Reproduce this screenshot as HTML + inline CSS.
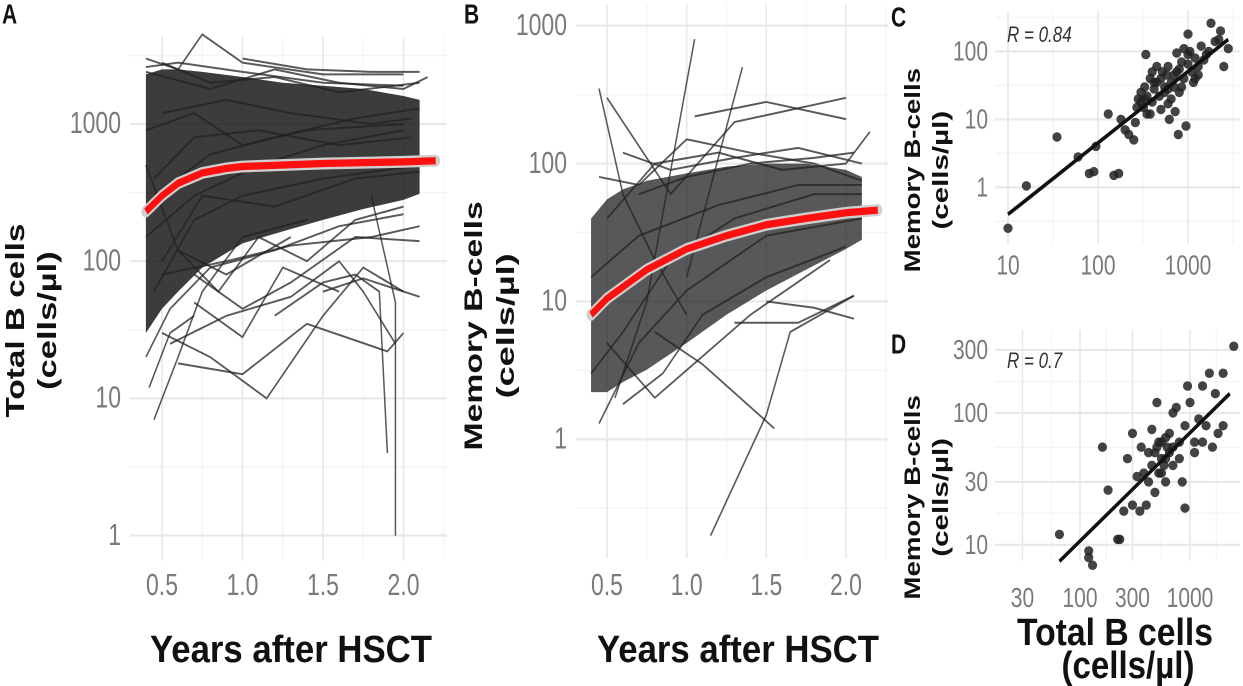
<!DOCTYPE html>
<html><head><meta charset="utf-8"><style>
html,body{margin:0;padding:0;background:#fff;}
svg{display:block;font-family:"Liberation Sans",Arial,sans-serif;}
.tk{fill:#7a7a7a;font-size:23px;}
.tks{fill:#7a7a7a;font-size:21px;}
.ttl{fill:#111;font-weight:bold;}
</style></head><body>
<svg id="fig" width="1243" height="686" viewBox="0 0 1243 520" preserveAspectRatio="none"></svg>
<script>
// ---------- DATA ----------
const yearTicks=[0.5,1.0,1.5,2.0];
const yearTickLabels=["0.5","1.0","1.5","2.0"];
const aTicks=[1,10,100,1000];
const aTickLabels=["1","10","100","1000"];
const bTicks=[1,10,100,1000];
const bTickLabels=["1","10","100","1000"];
const cxTicks=[10,100,1000];const cxTickLabels=["10","100","1000"];
const cyTicks=[1,10,100];const cyTickLabels=["1","10","100"];
const dxTicks=[30,100,300,1000];const dxTickLabels=["30","100","300","1000"];
const dyTicks=[10,30,100,300];const dyTickLabels=["10","30","100","300"];
// density envelopes
const bandYears=[0.4,0.5,0.6,0.75,1.0,1.25,1.5,1.75,2.0,2.1];
const aBandLow=[30,45,60,90,135,165,200,240,280,310];
const aBandHigh=[2300,2500,2500,2400,2200,2000,1900,1800,1600,1500];
const bBandLow=[2.2,2.2,2.6,3.2,5,8,12,17,24,28];
const bBandHigh=[40,55,65,75,85,95,100,100,90,80];
// red smoother
const fitYearsA=[0.4,0.5,0.6,0.75,0.9,1.0,1.5,2.0,2.2];
const fitA=[230,300,370,440,475,490,515,530,540];
const fitYearsB=[0.4,0.5,0.75,1.0,1.25,1.5,1.75,2.0,2.2];
const fitB=[8,10.5,17,24,30,36,40,44,46];
// individual trajectories A: [years, values]
const aLines=[
[[0.45,0.6,0.75,1.0,1.4],[7,20,60,150,200]],
[[0.42,0.55,0.7],[12,30,40]],
[[0.5,0.8,1.15,1.5,1.75,2.0],[30,20,10,40,90,60]],
[[0.6,1.0,1.4,1.9,2.0],[18,15,35,22,30]],
[[0.55,0.9,1.3,1.6,1.75,1.95],[25,40,55,100,60,25]],
[[1.2,1.5,1.7,1.85,1.9],[40,70,80,60,4]],
[[1.8,1.95,1.95],[300,50,1]],
[[1.5,1.75,2.1],[60,75,55]],
[[0.7,1.0,1.25,1.6],[50,28,90,60]],
[[0.4,0.6,0.75,1.0,1.5,2.0],[3000,2500,4500,2800,2300,2300]],
[[0.4,0.8,1.2,1.6,2.0,2.15],[2400,1800,2500,2000,1800,2200]],
[[0.4,0.7,1.1,1.5,2.0],[150,300,500,700,900]],
[[0.45,0.7,1.0,1.5,2.1],[60,200,300,400,500]],
[[0.5,0.9,1.3,1.8,2.1],[80,100,130,150,180]],
[[0.5,0.9,1.3,1.8,2.05],[1200,1500,1200,1000,1100]],
[[0.4,0.6,0.9,1.3],[500,120,80,150]],
[[0.6,0.85,1.1,1.4,1.7,2.0],[120,60,150,100,200,250]],
[[0.4,0.55,0.8,1.2,1.6,2.0],[20,45,90,120,180,220]],
[[0.7,1.0,1.3,1.7,2.1],[80,45,70,150,140]],
[[0.4,0.7,1.0,1.4,2.0],[900,1200,700,900,1000]],
[[0.45,0.8,1.2,1.7,2.1],[300,600,800,1100,1300]],
[[0.5,0.8,1.2,1.6,2.1],[2800,2000,2200,1700,2000]],
[[1.0,1.4,1.8,2.1],[3000,2500,2400,2400]],
[[0.4,0.6,1.0,1.5,2.0],[2600,2800,2400,2000,1900]],
[[0.45,0.7,1.1,1.6,2.05],[400,800,900,700,800]],
[[0.5,0.75,1.2,1.7,2.1],[100,300,250,400,450]]
];
const bLines=[
[[1.15,1.5,1.65,2.05],[0.2,1.5,6,11]],
[[0.8,1.1,1.55],[6,3.5,1.2]],
[[0.55,0.75,1.05],[2,10,800]],
[[1.0,1.35],[15,500]],
[[0.5,0.9,1.3,2.0],[300,60,200,300]],
[[1.05,1.5,2.0],[220,280,210]],
[[0.45,0.6,0.8,1.0],[350,60,20,8]],
[[1.3,1.7,2.05],[7,7,11]],
[[1.5,1.8,2.05],[10,9,7.5]],
[[0.45,0.7,1.0,1.5,2.1],[1.3,5,12,30,40]],
[[0.4,0.6,0.9,1.3,1.8,2.1],[3,6,20,40,60,60]],
[[0.5,0.8,1.2,1.6,2.0,2.15],[40,100,120,90,100,170]],
[[0.45,0.7,1.0,1.4,1.8,2.1],[80,70,150,120,100,75]],
[[0.6,0.85,1.1,1.5,2.0],[1.8,3,8,15,25]],
[[0.4,0.7,1.2,1.7,2.1],[15,30,50,70,70]],
[[0.5,0.8,1.1,1.4,1.9],[5,2,4,8,20]],
[[0.6,0.9,1.3,1.7,2.1],[120,90,110,130,100]],
[[0.7,1.0,1.4,1.8,2.05],[60,80,100,110,120]]
];
// scatter C: total, memory
const cTotal=[10,16,35,60,80,90,95,130,150,170,180,200,220,250,260,280,300,320,330,340,350,380,400,420,450,480,500,520,550,580,600,620,650,700,720,750,780,800,850,900,950,1000,1050,1100,1200,1300,1400,1500,1600,1800,2000,2200,2500,2800,300,350,450,550,650,850,1150,900,700,500,600,400,1000,1300,1700,2300,800,380,270,330,420,600,750,1000,1200];
const cMemory=[0.25,1.05,5.5,2.8,1.6,1.7,4,12,1.5,1.6,10,7,6,5,9,20,25,15,30,90,12,40,18,28,35,22,14,50,30,45,60,10,20,45,13,95,6,55,70,40,8,65,100,50,80,60,120,75,90,260,140,150,60,110,18,22,60,25,35,30,35,110,30,40,17,50,180,45,100,200,25,12,15,20,35,28,50,90,40];
const cFit=[[10,0.4],[2800,150]];
// scatter D
const dTotal=[65,120,120,130,160,180,220,230,250,270,300,300,330,350,360,400,420,450,450,480,500,500,520,550,550,600,600,650,700,700,750,800,850,900,900,950,1000,1100,1200,1300,1400,1500,1600,1700,1800,2000,2000,2500,1300,1100,600,700,650,550,480,800,380,420,520,580,620];
const dMemory=[12,8,9,7,55,26,11,11,18,45,20,70,33,18,55,20,30,40,75,25,55,120,35,45,60,65,30,50,100,40,110,60,30,19,80,160,120,60,90,60,80,200,55,140,70,200,80,320,160,50,45,55,70,35,50,45,35,50,60,40,55];
const dFit=[[65,7.5],[2300,140]];

// ---------- SCALES ----------
const L=Math.log10;
const xA=t=>162+(t-0.5)*161, yA=v=>406-104*L(v);
const xB=t=>607+(t-0.5)*159.3, yB=v=>333-104.5*L(v);
const xC=v=>1008+90*L(v/10), yC=v=>142-51.5*L(v);
const xD=v=>1080+110*L(v/100), yD=v=>313-100*L(v/100);

const svg=document.getElementById('fig');
const NS="http://www.w3.org/2000/svg";
function mk(tag,attrs,parent){const e=document.createElementNS(NS,tag);for(const k in attrs)e.setAttribute(k,attrs[k]);(parent||svg).appendChild(e);return e;}
function txt(s,x,y,cls,extra){const e=mk('text',Object.assign({x:x,y:y,class:cls},extra||{}));e.textContent=s;return e;}

function grid(name,x0,x1,y0,y1,xs,ys,xsMin,ysMin){
  const g=mk('g',{});
  
  
  xsMin.forEach(x=>mk('line',{x1:x,x2:x,y1:y0,y2:y1,stroke:'#f4f4f4','stroke-width':1.2},g));
  ysMin.forEach(y=>mk('line',{x1:x0,x2:x1,y1:y,y2:y,stroke:'#f4f4f4','stroke-width':1.2},g));
  xs.forEach(x=>mk('line',{x1:x,x2:x,y1:y0,y2:y1,stroke:'#e8e8e8','stroke-width':1.6},g));
  ys.forEach(y=>mk('line',{x1:x0,x2:x1,y1:y,y2:y,stroke:'#e8e8e8','stroke-width':1.6},g));
}
grid('panel-a',130,447,28,425,yearTicks.map(xA),aTicks.map(yA),[0.25,0.75,1.25,1.75,2.25].map(xA).filter(x=>x>=130),[3.16,31.6,316,3162].map(yA));
grid('panel-b',576,888,3,423,yearTicks.map(xB),bTicks.map(yB),[0.75,1.25,1.75,2.25].map(xB),[0.316,3.16,31.6,316].map(yB));
grid('panel-c',995,1240,8,185,cxTicks.map(xC),cyTicks.map(yC),[3.16,31.6,316,3162].map(xC).filter(x=>x>=995),[0.316,3.16,31.6,316].map(yC).filter(y=>y>=8));
grid('panel-d',995,1240,250,425,dxTicks.map(xD),dyTicks.map(yD),[55,173,548,1732].map(xD),[17.3,54.8,173].map(yD));

function band(name,xs,lo,hi,xf,yf,op){
  let d='M'+xs.map((t,i)=>xf(t)+','+yf(hi[i])).join('L');
  d+='L'+xs.slice().reverse().map((t,i)=>xf(t)+','+yf(lo[lo.length-1-i])).join('L')+'Z';
  const p=mk('path',{d:d,fill:'#111','fill-opacity':op});
  
  
}
band('panel-a-density',bandYears,aBandLow,aBandHigh,xA,yA,0.82);
band('panel-b-density',bandYears,bBandLow,bBandHigh,xB,yB,0.7);

function lines(name,arr,xf,yf){
  arr.forEach((s,i)=>{
    const p=mk('polyline',{points:s[0].map((t,j)=>xf(t)+','+yf(s[1][j])).join(' '),fill:'none',stroke:'#222','stroke-opacity':0.75,'stroke-width':1.5});
    
    
  });
}
lines('panel-a',aLines,xA,yA);
lines('panel-b',bLines,xB,yB);

function fit(name,xs,vs,xf,yf){
  const pts=xs.map((t,i)=>xf(t)+','+yf(vs[i])).join(' ');
  const s=mk('polyline',{points:pts,fill:'none',stroke:'#cfcfcf','stroke-width':9,'stroke-linecap':'round'});
  
  
  const p=mk('polyline',{points:pts,fill:'none',stroke:'#ff1010','stroke-width':5.5,'stroke-linecap':'butt'});
  
  
}
fit('panel-a',fitYearsA,fitA,xA,yA);
fit('panel-b',fitYearsB,fitB,xB,yB);

function scatter(name,xs,ys,xf,yf,fitL){
  xs.forEach((v,i)=>{
    const c=mk('ellipse',{cx:xf(v),cy:yf(ys[i]),rx:4.6,ry:3.6,fill:'#222','fill-opacity':0.85});
    
    
  });
  const l=mk('line',{x1:xf(fitL[0][0]),y1:yf(fitL[0][1]),x2:xf(fitL[1][0]),y2:yf(fitL[1][1]),stroke:'#111','stroke-width':3});
  
  
}
scatter('panel-c',cTotal,cMemory,xC,yC,cFit);
scatter('panel-d',dTotal,dMemory,xD,yD,dFit);

function ticksY(vals,labs,yf,xr,cls){vals.forEach((v,i)=>{const t=txt(labs[i],xr,yf(v)+7,cls,{'text-anchor':'end'});});}
function ticksX(vals,labs,xf,y,cls){vals.forEach((v,i)=>{const t=txt(labs[i],xf(v),y,cls,{'text-anchor':'middle'});});}
ticksY(aTicks,aTickLabels,yA,121,'tk');
ticksX(yearTicks,yearTickLabels,xA,451,'tk');
ticksY(bTicks,bTickLabels,yB,567,'tk');
ticksX(yearTicks,yearTickLabels,xB,451,'tk');
ticksY(cyTicks,cyTickLabels,yC,988,'tks');
ticksX(cxTicks,cxTickLabels,xC,208,'tks');
ticksY(dyTicks,dyTickLabels,yD,988,'tks');
ticksX(dxTicks,dxTickLabels,xD,460,'tks');

function t(s,x,y,size,name,len,extra){const a=Object.assign({'font-size':size,'text-anchor':'middle'},extra||{});if(len){a.textLength=len;a.lengthAdjust='spacingAndGlyphs';}const e=txt(s,x,y,'ttl',a);return e;}
t('Years after HSCT',291,502,29,'panel-a-x-axis-title',282);
t('Years after HSCT',738,502,29,'panel-b-x-axis-title',282);
t('Total B cells',24,243,26,'panel-a-y-axis-title',147,{transform:'rotate(-90 24 243)'});
t('(cells/µl)',56,243,26,'panel-a-y-axis-title-unit',105,{transform:'rotate(-90 56 243)'});
t('Memory B-cells',482,247,25,'panel-b-y-axis-title',189,{transform:'rotate(-90 482 247)'});
t('(cells/µl)',514,247,25,'panel-b-y-axis-title-unit',110,{transform:'rotate(-90 514 247)'});
t('Memory B-cells',920,129,22,'panel-c-y-axis-title',155,{transform:'rotate(-90 920 129)'});
t('(cells/µl)',948,129,22,'panel-c-y-axis-title-unit',90,{transform:'rotate(-90 948 129)'});
t('Memory B-cells',920,377,22,'panel-d-y-axis-title',155,{transform:'rotate(-90 920 377)'});
t('(cells/µl)',948,377,22,'panel-d-y-axis-title-unit',90,{transform:'rotate(-90 948 377)'});
t('Total B cells',1115,489,29,'panel-d-x-axis-title',196);
t('(cells/µl)',1128,514,29,'panel-d-x-axis-title-unit',133);
t('A',2,18,21,'panel-a-label',null,{'text-anchor':'start'});
t('B',464,18,21,'panel-b-label',null,{'text-anchor':'start'});
t('C',891,20,21,'panel-c-label',null,{'text-anchor':'start'});
t('D',891,268,21,'panel-d-label',null,{'text-anchor':'start'});
const r1=txt('R = 0.84',1007,32,'',{'font-size':17,fill:'#333','font-style':'italic'});


const r2=txt('R = 0.7',1007,279,'',{'font-size':17,fill:'#333','font-style':'italic'});


</script>
</body></html>
